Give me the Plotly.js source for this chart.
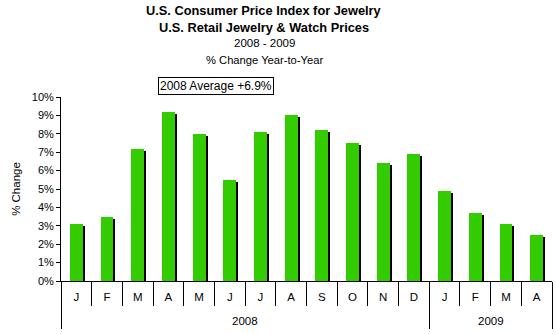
<!DOCTYPE html>
<html>
<head>
<meta charset="utf-8">
<script src="https://cdn.plot.ly/plotly-3.0.1.min.js"></script>
<style>html,body{margin:0;padding:0;background:#fff;}#chart{width:556px;height:334px;}</style>
</head>
<body>
<div id="chart"></div>
<script>
var months = ["J","F","M","A","M","J","J","A","S","O","N","D","J","F","M","A"];
var years = ["2008","2009"];
var yearCounts = [12, 4];
var values = [3.1, 3.5, 7.2, 9.2, 8.0, 5.5, 8.1, 9.0, 8.2, 7.5, 6.4, 6.9, 4.9, 3.7, 3.1, 2.5];
var yTicks = [0,1,2,3,4,5,6,7,8,9,10];
var yTickText = ["0%","1%","2%","3%","4%","5%","6%","7%","8%","9%","10%"];
var avgText = "2008 Average +6.9%";

var FONT = "Liberation Sans, Arial, sans-serif";
var idx = months.map(function(_, i){ return i; });
var shadow = values.map(function(v){ return v - 0.11; });

var bounds = [];
for (var i = 0; i <= months.length; i++) bounds.push(i - 0.5);
var groupBounds = [-0.5];
var yearCenters = [];
var acc = 0;
yearCounts.forEach(function(c){ yearCenters.push(acc + c/2 - 0.5); acc += c; groupBounds.push(acc - 0.5); });

var traces = [
  {type:"bar", x: idx, y: shadow, width: 0.42, offset: -0.145, marker:{color:"#000000", line:{width:0}}, hoverinfo:"skip", showlegend:false},
  {type:"bar", x: idx, y: values, width: 0.42, offset: -0.21, marker:{color:"#33CC00", line:{width:0}}, showlegend:false},
  {type:"scatter", mode:"markers", x:[0], y:[0], xaxis:"x2", yaxis:"y", marker:{opacity:0, size:1}, hoverinfo:"skip", showlegend:false},
  {type:"scatter", mode:"markers", x:[0], y:[0], xaxis:"x3", yaxis:"y", marker:{opacity:0, size:1}, hoverinfo:"skip", showlegend:false}
];

var annotations = [
  {text:"<b>U.S. Consumer Price Index for Jewelry</b>", xref:"paper", yref:"paper", x:(264-61)/491, y:(281-11)/184, xanchor:"center", yanchor:"middle", showarrow:false, font:{family:FONT, size:12.8, color:"#000"}},
  {text:"<b>U.S. Retail Jewelry &amp; Watch Prices</b>", xref:"paper", yref:"paper", x:(264-61)/491, y:(281-27)/184, xanchor:"center", yanchor:"middle", showarrow:false, font:{family:FONT, size:12.8, color:"#000"}},
  {text:"2008 - 2009", xref:"paper", yref:"paper", x:(264-61)/491, y:(281-43)/184, xanchor:"center", yanchor:"middle", showarrow:false, font:{family:FONT, size:11.5, color:"#000"}},
  {text:"% Change Year-to-Year", xref:"paper", yref:"paper", x:(264-61)/491, y:(281-60)/184, xanchor:"center", yanchor:"middle", showarrow:false, font:{family:FONT, size:11.2, color:"#000"}},
  {text:avgText, xref:"paper", yref:"paper", x:(215.5-61)/491, y:(281-86.5)/184, xanchor:"center", yanchor:"middle", showarrow:false, bordercolor:"#000", borderwidth:1, borderpad:1, bgcolor:"#fff", font:{family:FONT, size:12, color:"#000"}}
];
years.forEach(function(yr, k){
  annotations.push({text: yr, xref:"x", yref:"paper", x: yearCenters[k], y: -40/184, xanchor:"center", yanchor:"middle", showarrow:false, font:{family:FONT, size:11.5, color:"#000"}});
});

var layout = {
  width: 556, height: 334,
  margin: {l:61, r:4, t:97, b:53, pad:0},
  paper_bgcolor:"#fff", plot_bgcolor:"#fff",
  barmode:"overlay", bargap:0,
  showlegend:false,
  font:{family:FONT, size:11, color:"#000"},
  xaxis: {
    type:"linear", range:[-0.5, months.length - 0.5], fixedrange:true,
    tickmode:"array", tickvals: idx, ticktext: months,
    ticks:"outside", ticklen:5, tickcolor:"rgba(0,0,0,0)",
    showline:true, linecolor:"#000", linewidth:1, showgrid:false, zeroline:false,
    tickfont:{family:FONT, size:11.5, color:"#000"}
  },
  xaxis2: {
    overlaying:"x", anchor:"y", type:"linear", range:[-0.5, months.length - 0.5], fixedrange:true,
    tickmode:"array", tickvals: bounds, ticks:"outside", ticklen:24, tickcolor:"#000", tickwidth:1,
    showticklabels:false, showline:false, showgrid:false, zeroline:false
  },
  xaxis3: {
    overlaying:"x", anchor:"y", type:"linear", range:[-0.5, months.length - 0.5], fixedrange:true,
    tickmode:"array", tickvals: groupBounds, ticks:"outside", ticklen:47, tickcolor:"#000", tickwidth:1,
    showticklabels:false, showline:false, showgrid:false, zeroline:false
  },
  yaxis: {
    range:[0,10], fixedrange:true, tickmode:"array", tickvals:yTicks, ticktext:yTickText,
    ticks:"outside", ticklen:4, tickcolor:"#000", showline:true, linecolor:"#000", linewidth:1,
    showgrid:false, zeroline:false, tickfont:{family:FONT, size:11, color:"#000"},
    title:{text:"% Change", font:{family:FONT, size:11.5, color:"#000"}, standoff:8}
  },
  annotations: annotations
};

Plotly.newPlot("chart", traces, layout, {staticPlot:true, displayModeBar:false});
</script>
</body>
</html>
